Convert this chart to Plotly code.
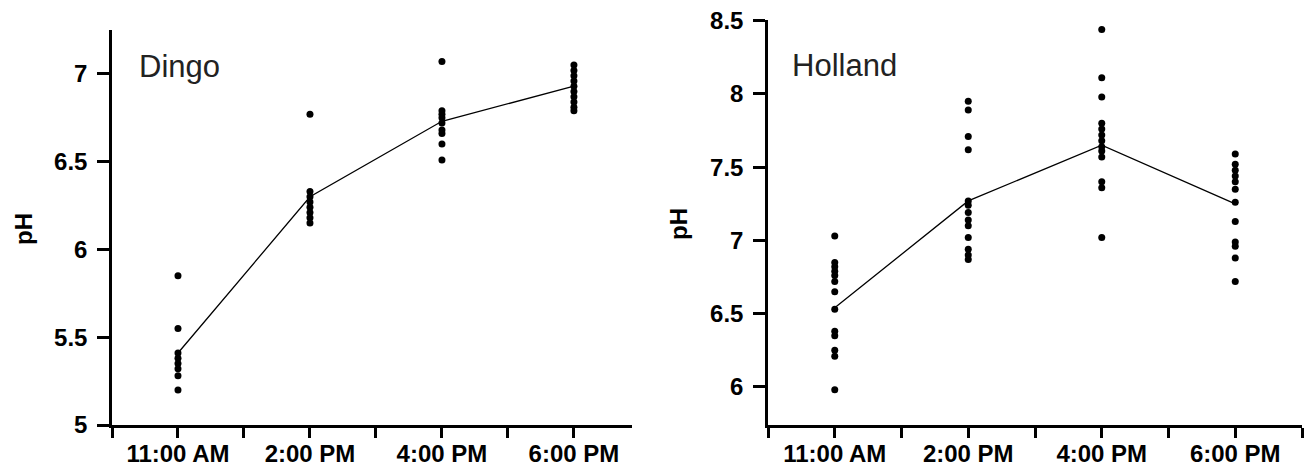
import plotly.graph_objects as go

# ---- data ----
times = ["11:00 AM", "2:00 PM", "4:00 PM", "6:00 PM"]

dingo_11am = [5.85, 5.55, 5.41, 5.38, 5.35, 5.32, 5.28, 5.20]
dingo_2pm = [6.77, 6.33, 6.30, 6.27, 6.24, 6.21, 6.18, 6.15]
dingo_4pm = [7.07, 6.79, 6.77, 6.75, 6.72, 6.68, 6.66, 6.60, 6.51]
dingo_6pm = [7.05, 7.02, 6.99, 6.96, 6.93, 6.90, 6.87, 6.84, 6.81, 6.79]
dingo_mean = [5.41, 6.30, 6.73, 6.93]

holland_11am = [7.03, 6.85, 6.82, 6.79, 6.76, 6.72, 6.65, 6.53, 6.38, 6.35, 6.25, 6.21, 5.98]
holland_2pm = [7.95, 7.89, 7.71, 7.62, 7.27, 7.24, 7.19, 7.14, 7.10, 7.02, 6.94, 6.90, 6.87]
holland_4pm = [8.44, 8.11, 7.98, 7.80, 7.76, 7.72, 7.68, 7.64, 7.61, 7.57, 7.40, 7.36, 7.02]
holland_6pm = [7.59, 7.52, 7.48, 7.44, 7.40, 7.35, 7.26, 7.13, 6.99, 6.96, 6.88, 6.72]
holland_mean = [6.54, 7.27, 7.65, 7.25]

dingo_groups = [dingo_11am, dingo_2pm, dingo_4pm, dingo_6pm]
holland_groups = [holland_11am, holland_2pm, holland_4pm, holland_6pm]

# category index -> axis position (labels on every other tick)
pos = [2 * i + 1 for i in range(len(times))]

fig = go.Figure()


def add_panel(groups, means, xa, ya):
    xs, ys = [], []
    for p, g in zip(pos, groups):
        xs += [p] * len(g)
        ys += g
    fig.add_trace(go.Scatter(x=pos, y=means, mode="lines",
                             line=dict(color="black", width=1.3),
                             xaxis=xa, yaxis=ya, showlegend=False, hoverinfo="skip"))
    fig.add_trace(go.Scatter(x=xs, y=ys, mode="markers",
                             marker=dict(color="black", size=7),
                             xaxis=xa, yaxis=ya, showlegend=False))


add_panel(dingo_groups, dingo_mean, "x", "y")
add_panel(holland_groups, holland_mean, "x2", "y2")

W, H = 1306, 467


def px(x):
    return x / W


def py(y):
    return 1 - y / H


FONT = "Liberation Sans, Arial, sans-serif"
xtickfont = dict(family=FONT, size=24, color="black", weight="bold")
ytickfont = dict(family=FONT, size=24, color="black", weight="bold")
ticktext = []
for t in times:
    ticktext += ["", t]
ticktext += [""]

xcommon = dict(showline=True, linecolor="black", linewidth=2.5, ticks="outside",
               ticklen=10, tickwidth=2.5, tickcolor="black", showgrid=False, zeroline=False,
               tickfont=xtickfont, tickmode="array", tickvals=list(range(9)),
               ticktext=ticktext, automargin=False, ticklabelstandoff=-5)
ycommon = dict(showline=True, linecolor="black", linewidth=2.5, ticks="outside",
               ticklen=12, tickwidth=2.5, tickcolor="black", showgrid=False, zeroline=False,
               tickfont=ytickfont, ticklabelstandoff=5, automargin=False)

fig.update_layout(
    template="none",
    width=W, height=H, autosize=False,
    margin=dict(l=0, r=0, t=0, b=0, pad=0),
    paper_bgcolor="white", plot_bgcolor="white",
    xaxis=dict(domain=[px(112), px(632)], range=[0, 7.88], anchor="y", **xcommon),
    yaxis=dict(domain=[py(425), py(30)], range=[5, 7.25], anchor="x",
               tickvals=[5, 5.5, 6, 6.5, 7], ticktext=["5", "5.5", "6", "6.5", "7"], **ycommon),
    xaxis2=dict(domain=[px(768), px(1302)], range=[0, 8], anchor="y2", **xcommon),
    yaxis2=dict(domain=[py(425), py(20)], range=[5.74, 8.505], anchor="x2",
                tickvals=[6, 6.5, 7, 7.5, 8, 8.5], ticktext=["6", "6.5", "7", "7.5", "8", "8.5"],
                **ycommon),
    annotations=[
        dict(text="Dingo", xref="paper", yref="paper", x=px(137), y=py(67),
             xanchor="left", yanchor="middle", showarrow=False,
             font=dict(family=FONT, size=31, color="#222")),
        dict(text="Holland", xref="paper", yref="paper", x=px(790), y=py(66),
             xanchor="left", yanchor="middle", showarrow=False,
             font=dict(family=FONT, size=31, color="#222")),
        dict(text="<b>pH</b>", xref="paper", yref="paper", x=px(24), y=py(229),
             xanchor="center", yanchor="middle", textangle=-90, showarrow=False,
             font=dict(family=FONT, size=24, color="black")),
        dict(text="<b>pH</b>", xref="paper", yref="paper", x=px(678), y=py(224),
             xanchor="center", yanchor="middle", textangle=-90, showarrow=False,
             font=dict(family=FONT, size=24, color="black")),
    ],
)

fig.write_html("out.html",
               config={"displayModeBar": False},
               post_script="document.body.style.margin='0';document.body.style.padding='0';"
                           "document.body.style.overflow='hidden';")
